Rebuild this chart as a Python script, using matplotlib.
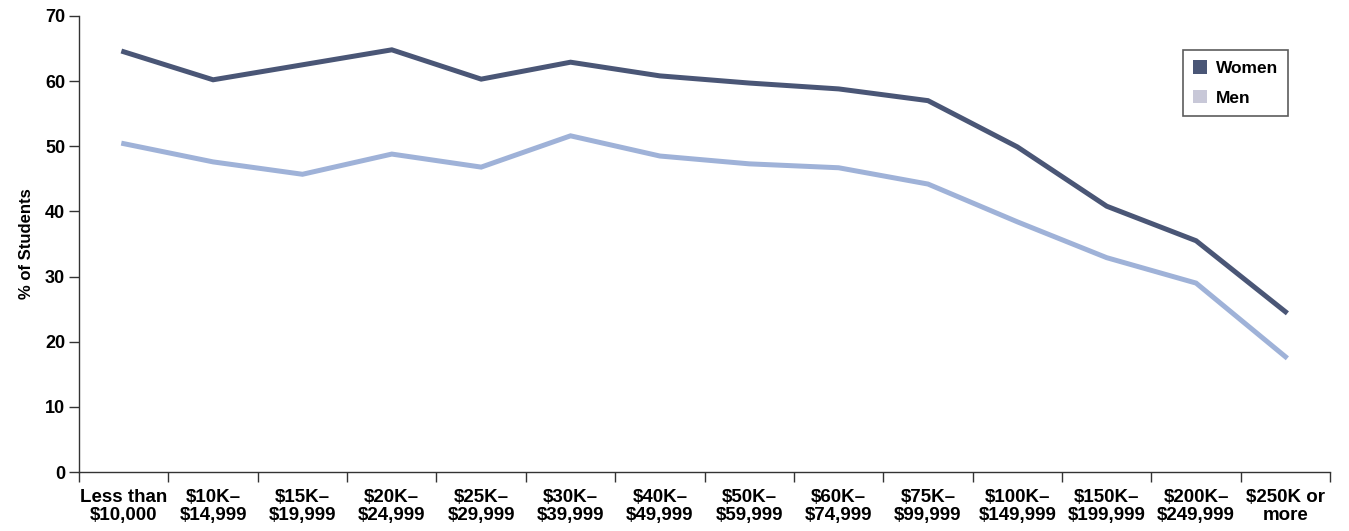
import matplotlib.pyplot as plt
import numpy as np
from matplotlib.patches import Patch

plt.rcParams['font.family'] = ['Liberation Sans', 'DejaVu Sans']
plt.rcParams['font.weight'] = 'bold'

categories = ['Less than\n$10,000', '$10K–\n$14,999', '$15K–\n$19,999', '$20K–\n$24,999',
              '$25K–\n$29,999', '$30K–\n$39,999', '$40K–\n$49,999', '$50K–\n$59,999',
              '$60K–\n$74,999', '$75K–\n$99,999', '$100K–\n$149,999', '$150K–\n$199,999',
              '$200K–\n$249,999', '$250K or\nmore']
women = [64.5, 60.2, 62.5, 64.8, 60.3, 62.9, 60.8, 59.7, 58.8, 57.0, 49.9, 40.8, 35.5, 24.6]
men = [50.4, 47.6, 45.7, 48.8, 46.8, 51.6, 48.5, 47.3, 46.7, 44.2, 38.4, 32.9, 29.0, 17.7]

women_color = '#4a5676'
men_color = '#9fb2d8'
men_patch = '#c8c8d8'

fig = plt.figure(figsize=(13.49, 5.31), dpi=100)
ax = fig.add_axes([0.0586, 0.111, 0.9274, 0.859])

x = np.arange(len(categories))
ax.plot(x, women, color=women_color, linewidth=3.6, solid_joinstyle='miter')
ax.plot(x, men, color=men_color, linewidth=3.6, solid_joinstyle='miter')

ax.set_xlim(-0.5, len(categories) - 0.5)
ax.set_ylim(0, 70)
ax.set_yticks(range(0, 71, 10))
ax.set_xticks(x)
ax.set_xticklabels(categories, fontsize=13.5, fontweight='bold', linespacing=1.1)
ax.set_xticks(np.arange(-0.5, len(categories), 1), minor=True)
ax.tick_params(axis='x', which='major', length=0, pad=12)
ax.tick_params(axis='x', which='minor', length=7, width=1, color='#333333')
ax.tick_params(axis='y', length=7, width=1, color='#333333', labelsize=13, pad=3)
for lbl in ax.get_yticklabels():
    lbl.set_fontweight('bold')

for s in ['top', 'right']:
    ax.spines[s].set_visible(False)
for s in ['left', 'bottom']:
    ax.spines[s].set_color('#333333')
    ax.spines[s].set_linewidth(1)

ax.set_ylabel('% of Students', fontsize=12, fontweight='bold', labelpad=8)

handles = [Patch(facecolor=women_color, edgecolor='none', label='Women'),
           Patch(facecolor=men_patch, edgecolor='none', label='Men')]
leg = fig.legend(handles=handles, loc='upper right', bbox_to_anchor=(0.955, 0.906),
                 fontsize=12.5, frameon=True, fancybox=False, handlelength=0.8,
                 handleheight=0.8, handletextpad=0.5, borderpad=0.6, labelspacing=0.8,
                 borderaxespad=0)
leg.get_frame().set_edgecolor('#333333')
leg.get_frame().set_linewidth(1.2)
for t in leg.get_texts():
    t.set_fontweight('bold')

fig.savefig('out.png', dpi=100)
